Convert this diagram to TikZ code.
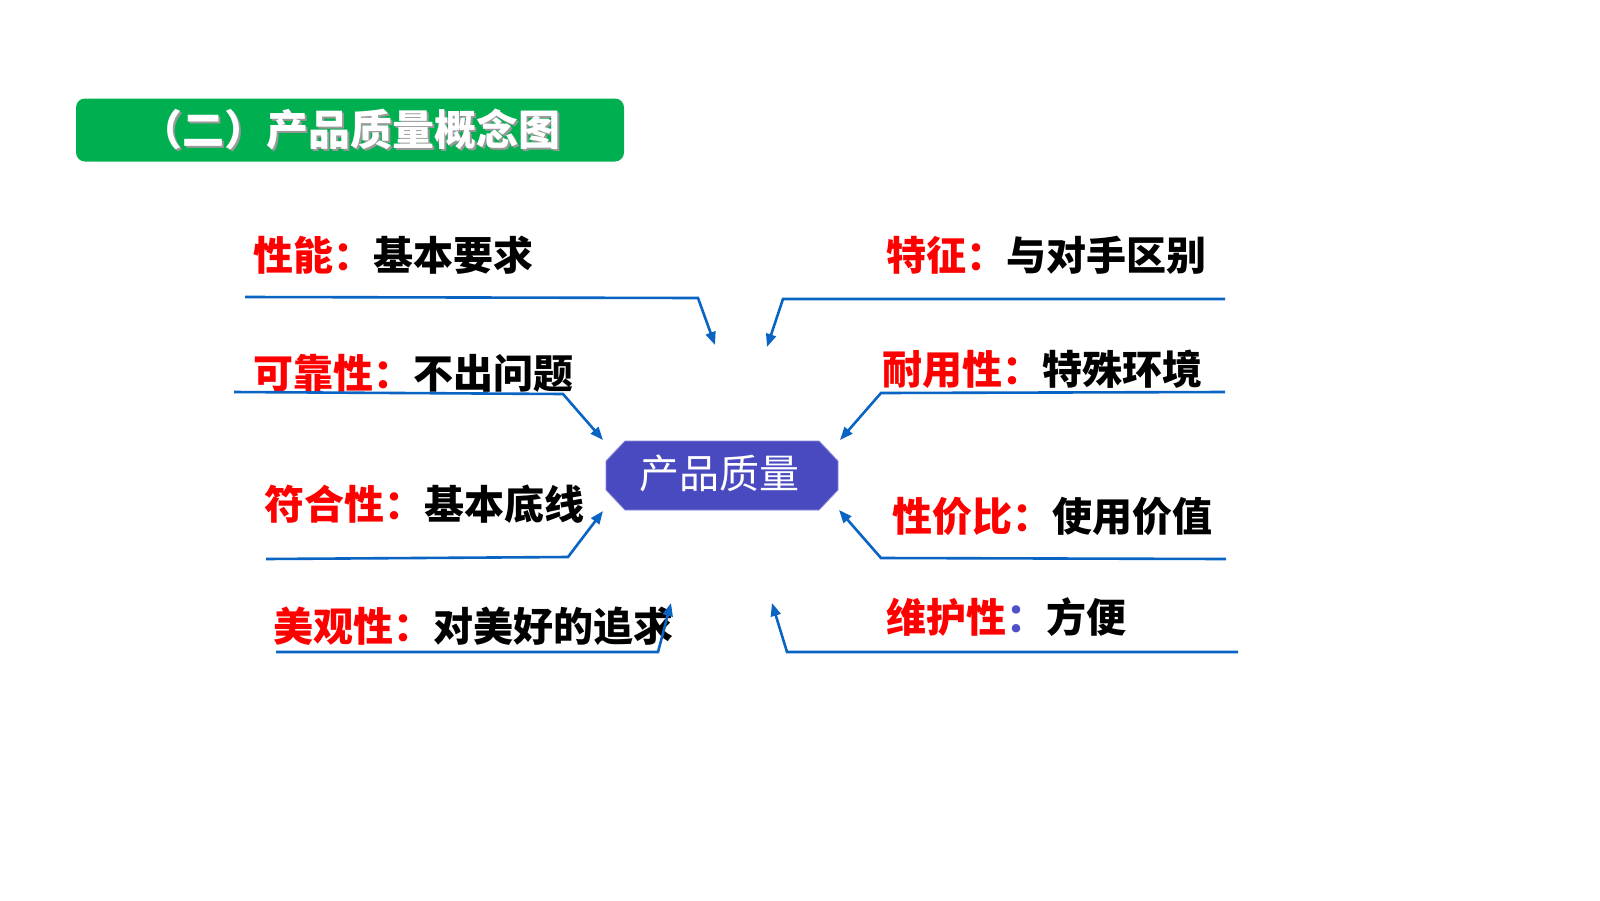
\documentclass[tikz,border=0pt]{standalone}
\usepackage{fontspec}
\usetikzlibrary{arrows.meta}
\newfontfamily\cjk{Noto Sans CJK SC}
\definecolor{titlegreen}{HTML}{00B050}
\definecolor{lineblue}{HTML}{0A64C4}
\definecolor{octfill}{HTML}{4A4AC0}
\definecolor{octedge}{HTML}{8A8AD8}
\definecolor{colonblue}{HTML}{5050C8}
\definecolor{lblred}{HTML}{FF0000}
\begin{document}
\begin{tikzpicture}[x=1pt,y=-1pt,
  lbl/.style={anchor=west,inner sep=0pt,text=black,font=\cjk\bfseries\fontsize{40}{48}\selectfont},
  conn/.style={draw=lineblue,line width=2.6pt,-{Triangle[length=13pt,width=10pt]}},
  titlefont/.style={inner sep=0pt,font=\cjk\bfseries\fontsize{42}{50}\selectfont}
]
\fill[white] (0,0) rectangle (1600,900);
\useasboundingbox (0,0) rectangle (1600,900);

% title
\node[fill=titlegreen,rounded corners=9pt,minimum width=548pt,minimum height=63pt,inner sep=0pt] (titlebox) at (350,130) {};
\node[titlefont,text=black!40] (titleshadow) at ([shift={(2,2)}]titlebox.center) {（二）产品质量概念图};
\node[titlefont,text=white] (title) at (titlebox.center) {（二）产品质量概念图};

% central octagon
\fill[octfill,draw=octedge,line width=0.8pt] (625,441) -- (819,441) -- (838,461) -- (838,490) -- (819,510) -- (625,510) -- (606,490) -- (606,461) -- cycle;
\node[inner sep=0pt,text=white,font=\cjk\fontsize{40}{48}\selectfont] (core) at (719,473) {产品质量};

% labels
\node[lbl] (l1) at (253,255) {\textcolor{lblred}{性能：}基本要求};
\node[lbl] (l2) at (253,373) {\textcolor{lblred}{可靠性：}不出问题};
\node[lbl] (l3) at (264,504) {\textcolor{lblred}{符合性：}基本底线};
\node[lbl] (l4) at (273,626) {\textcolor{lblred}{美观性：}对美好的追求};
\node[lbl] (l5) at (886,255) {\textcolor{lblred}{特征：}与对手区别};
\node[lbl] (l6) at (882,369) {\textcolor{lblred}{耐用性：}特殊环境};
\node[lbl] (l7) at (892,516) {\textcolor{lblred}{性价比：}使用价值};
\node[lbl] (l8) at (886,617) {\textcolor{lblred}{维护性}\textcolor{colonblue}{：}方便};

% connector points
\coordinate (s1) at (245,297);  \coordinate (b1) at (698,298);  \coordinate (t1) at (715,345);
\coordinate (s2) at (234,392);  \coordinate (b2) at (563,394);  \coordinate (t2) at (603,440);
\coordinate (s3) at (266,559);  \coordinate (b3) at (568,557);  \coordinate (t3) at (603,511);
\coordinate (s4) at (276,652);  \coordinate (b4) at (658,652);  \coordinate (t4) at (671,603);
\coordinate (s5) at (1225,299); \coordinate (b5) at (783,299);  \coordinate (t5) at (767,347);
\coordinate (s6) at (1225,392); \coordinate (b6) at (881,393);  \coordinate (t6) at (840,440);
\coordinate (s7) at (1226,559); \coordinate (b7) at (881,558);  \coordinate (t7) at (839,510);
\coordinate (s8) at (1238,652); \coordinate (b8) at (787,652);  \coordinate (t8) at (772,603);

\foreach \i in {1,...,8} {
  \draw[conn] (s\i) -- (b\i) -- (t\i);
}
\end{tikzpicture}
\end{document}
